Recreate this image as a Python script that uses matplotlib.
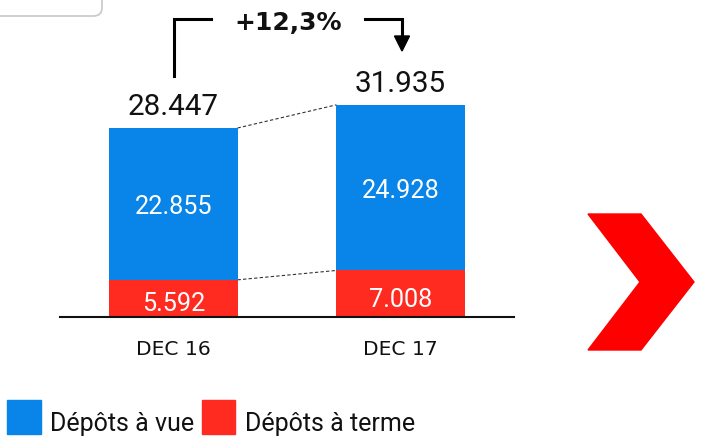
import matplotlib
matplotlib.use("Agg")
import matplotlib.pyplot as plt
from matplotlib.patches import Polygon, FancyBboxPatch, Rectangle

categories = ["DEC 16", "DEC 17"]
depots_vue = [22855, 24928]
depots_terme = [5592, 7008]
totals = [28447, 31935]
growth_label = "+12,3%"
series_names = ["Dépôts à vue", "Dépôts à terme"]

BLUE = "#0984E8"
RED = "#FF2A20"
W, H = 702, 439

fig = plt.figure(figsize=(W / 100, H / 100), dpi=100)

def fx(x):
    return x / W

def fy(y):
    return 1 - y / H

# axes: baseline at pixel y=318, x from 60 to 514
ax = fig.add_axes([fx(60), fy(318), 454 / W, 318 / H])
ax.set_xlim(-0.5, 1.5)
ax.set_ylim(0, 318 / 0.006644)
for s in ["top", "right", "left"]:
    ax.spines[s].set_visible(False)
ax.spines["bottom"].set_linewidth(1.5)
ax.spines["bottom"].set_color("#111111")
ax.set_yticks([])

xs = list(range(len(categories)))
bw = 0.564
ax.bar(xs, depots_terme, width=bw, color=RED, zorder=2)
ax.bar(xs, depots_vue, width=bw, bottom=depots_terme, color=BLUE, zorder=2)

ax.set_xticks(xs)
ax.set_xticklabels(categories, family=["DejaVu Sans"], fontsize=14.6, color="#111111")
ax.tick_params(axis="x", length=0, pad=15.5)

numfont = ["Roboto", "DejaVu Sans"]

def fmt(v):
    return f"{v:,}".replace(",", ".")

for i in xs:
    ax.annotate(fmt(totals[i]), (i, totals[i]), xytext=(0, 10), textcoords="offset points",
                ha="center", va="baseline", fontsize=21.3, family=numfont, color="#111111")
    ax.annotate(fmt(depots_vue[i]), (i, depots_terme[i] + depots_vue[i] / 2), xytext=(0, -6.5),
                textcoords="offset points", ha="center", va="baseline", fontsize=18.2,
                family=numfont, color="white", zorder=3)
    ax.annotate(fmt(depots_terme[i]), (i, depots_terme[i] / 2), xytext=(0, -8.5),
                textcoords="offset points", ha="center", va="baseline", fontsize=18.2,
                family=numfont, color="white", zorder=3)

# dashed connectors
ax.plot([bw / 2, 1 - bw / 2], [totals[0], totals[1]], color="#333333", lw=0.8,
        dashes=(3, 2), zorder=1)
ax.plot([bw / 2, 1 - bw / 2], [depots_terme[0], depots_terme[1]], color="#333333", lw=0.8,
        dashes=(3, 2), zorder=1)

# growth bracket (figure pixel coords)
lw = 2.2
fig.add_artist(plt.Line2D([fx(174), fx(174), fx(211)], [fy(77), fy(20), fy(20)],
                          color="black", lw=lw, solid_joinstyle="miter"))
fig.add_artist(plt.Line2D([fx(365), fx(402), fx(402)], [fy(20), fy(20), fy(38)],
                          color="black", lw=lw, solid_joinstyle="miter"))
fig.add_artist(Polygon([(fx(394.5), fy(37)), (fx(409.5), fy(37)), (fx(402), fy(52))],
                       closed=True, color="black", transform=fig.transFigure))
fig.text(fx(288.5), fy(29.5), growth_label, ha="center", va="baseline", fontsize=18,
         fontweight="bold", family=["DejaVu Sans"], color="#111111")

# chevron
fig.add_artist(Polygon([(fx(588), fy(215)), (fx(641), fy(215)), (fx(694), fy(283)),
                        (fx(641), fy(351)), (fx(588), fy(351)), (fx(640), fy(283))],
                       closed=True, color="#FF0000", transform=fig.transFigure))

# top-left rounded box
fig.add_artist(FancyBboxPatch((fx(-20), fy(17)), (122) / W, 40 / H,
                              boxstyle="round,pad=0,rounding_size=0.012",
                              fc="white", ec="#C8C8C8", lw=1.2, transform=fig.transFigure,
                              mutation_aspect=W / H))

# legend
legfont = ["Roboto", "DejaVu Sans"]
fig.add_artist(Rectangle((fx(7), fy(435)), 34 / W, 34 / H, color=BLUE, transform=fig.transFigure))
fig.text(fx(50), fy(431), series_names[0], ha="left", va="baseline", fontsize=18,
         family=legfont, color="#111111")
fig.add_artist(Rectangle((fx(202), fy(435)), 33 / W, 34 / H, color=RED, transform=fig.transFigure))
fig.text(fx(245), fy(431), series_names[1], ha="left", va="baseline", fontsize=18,
         family=legfont, color="#111111")

fig.savefig("out.png", dpi=100)
